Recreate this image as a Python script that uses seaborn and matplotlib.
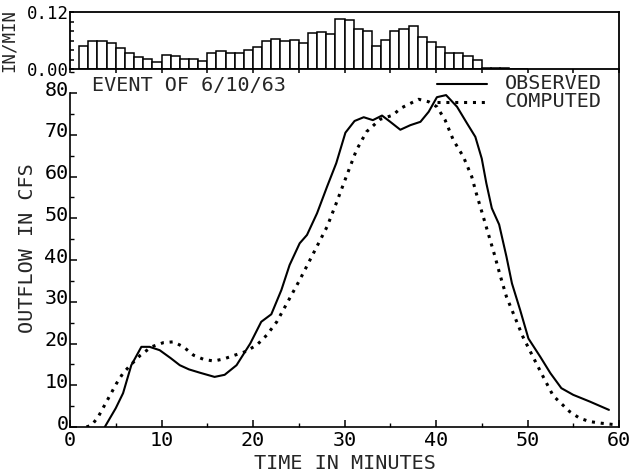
import numpy as np
import pandas as pd
import matplotlib
matplotlib.use("Agg")
import matplotlib.pyplot as plt
import matplotlib.transforms as mtransforms
from matplotlib.ticker import MultipleLocator, FixedLocator, NullFormatter, FuncFormatter
import seaborn as sns

# ---- data ----
rain_start_min = list(range(1, 50))
rain_in_per_min = [0.048, 0.060, 0.060, 0.055, 0.044, 0.033, 0.026, 0.021, 0.015, 0.029,
                   0.028, 0.021, 0.020, 0.017, 0.034, 0.038, 0.034, 0.034, 0.040, 0.046,
                   0.058, 0.064, 0.058, 0.060, 0.055, 0.076, 0.077, 0.074, 0.105, 0.104,
                   0.084, 0.081, 0.048, 0.060, 0.079, 0.084, 0.091, 0.067, 0.057, 0.046,
                   0.033, 0.033, 0.028, 0.019, 0.003, 0.002, 0.002, 0.001, 0.001]

obs_time = [3.8, 5.0, 5.8, 6.7, 7.8, 8.7, 9.8, 11.0, 12.0, 13.0, 14.2, 15.8, 16.9, 18.2,
            19.7, 20.9, 22.0, 23.1, 24.0, 25.1, 25.9, 27.0, 28.1, 29.1, 30.1, 31.1, 32.1,
            33.1, 34.1, 35.0, 36.1, 37.2, 38.3, 39.2, 40.1, 41.1, 42.3, 43.4, 44.3, 45.0,
            45.5, 46.1, 46.9, 47.7, 48.3, 49.2, 50.1, 51.4, 52.5, 53.7, 55.0, 56.8, 58.9]
obs_flow = [0, 4.5, 8.1, 14.8, 19.2, 19.2, 18.4, 16.5, 14.8, 13.8, 13.0, 12.0, 12.5, 14.8,
            20.0, 25.2, 27.0, 32.8, 38.8, 44.0, 46.0, 51.2, 57.6, 63.2, 70.5, 73.3, 74.2,
            73.5, 74.6, 73.1, 71.2, 72.3, 73.1, 75.5, 79.0, 79.5, 76.7, 72.7, 69.5, 64.3,
            58.4, 52.4, 48.5, 40.8, 34.4, 28.0, 21.2, 16.8, 12.9, 9.3, 7.7, 6.1, 4.1]

comp_time = [1.8, 2.4, 3.1, 4.0, 5.1, 5.8, 6.6, 7.7, 8.9, 10.2, 11.3, 12.4, 13.5, 14.6,
             15.7, 16.8, 18.0, 19.1, 20.4, 21.5, 22.6, 23.7, 25.1, 26.6, 28.1, 29.1, 30.2,
             31.3, 32.4, 33.9, 35.3, 36.1, 38.1, 39.2, 40.1, 41.0, 41.9, 43.0, 43.9, 44.4,
             45.0, 45.7, 46.4, 47.0, 47.7, 48.6, 49.5, 50.6, 51.7, 52.8, 54.6, 55.7, 56.8,
             58.1, 59.8]
comp_flow = [0, 0.5, 2.5, 6.1, 10.5, 12.9, 14.8, 17.2, 19.2, 20.2, 20.4, 19.2, 17.2, 16.2,
             15.8, 16.3, 17.2, 18.0, 19.6, 22.0, 25.2, 29.6, 35.2, 41.6, 48.0, 53.6, 60.0,
             66.3, 70.7, 73.7, 74.7, 76.3, 78.5, 77.9, 76.7, 73.5, 68.7, 64.7, 60.0, 56.0,
             51.6, 46.4, 41.2, 36.4, 31.2, 26.4, 21.6, 16.8, 12.1, 7.5, 3.7, 2.1, 1.3,
             0.9, 0.5]

x_ticks = [0, 10, 20, 30, 40, 50, 60]
y_ticks = [0, 10, 20, 30, 40, 50, 60, 70, 80]
rain_ticks = [0.0, 0.12]

title_text = "EVENT OF 6/10/63"
legend_labels = ["OBSERVED", "COMPUTED"]

# ---- styling ----
sns.set_theme(style="white")
plt.rcParams['font.family'] = ['DejaVu Sans Mono']
plt.rcParams['axes.edgecolor'] = 'black'
plt.rcParams['axes.linewidth'] = 1.2
plt.rcParams['xtick.color'] = 'black'
plt.rcParams['ytick.color'] = 'black'
FS = 14.5
FS_TOP = 12.5

fig = plt.figure(figsize=(6.33, 4.75), dpi=100)
W, H = 633, 475
L, R = 70 / W, 619 / W
ax = fig.add_axes([L, 1 - 427 / H, R - L, (427 - 69) / H])
axt = fig.add_axes([L, 1 - 69 / H, R - L, (69 - 12) / H])

# rainfall bars
rain_t = [m + 0.5 for m in rain_start_min]
bin_edges = [float(e) for e in range(1, 51)]
sns.histplot(x=rain_t, weights=rain_in_per_min, bins=bin_edges, ax=axt,
             color="white", edgecolor="black", linewidth=1.1, alpha=1.0)
axt.set_xlim(0, 60)
axt.set_ylim(0, 0.12)
axt.set_xlabel("")
axt.set_ylabel("IN/MIN", fontsize=FS_TOP, labelpad=1)
axt.yaxis.set_label_coords(-0.095, 0.5)
axt.xaxis.set_major_locator(MultipleLocator(5))
axt.xaxis.set_major_formatter(NullFormatter())
axt.tick_params(axis='x', direction='out', length=3, width=1.1, bottom=True)
axt.yaxis.set_major_locator(FixedLocator(rain_ticks))
axt.yaxis.set_major_formatter(FuncFormatter(lambda v, p: f"{v:.2f}"))
axt.yaxis.set_minor_locator(MultipleLocator(0.02))
axt.tick_params(axis='y', which='both', direction='in', length=3, width=1.1, left=True,
                labelsize=FS_TOP, pad=1)
for s in axt.spines.values():
    s.set_linewidth(1.3)

# flow lines
obs_df = pd.DataFrame({"t": obs_time, "q": obs_flow})
comp_df = pd.DataFrame({"t": comp_time, "q": comp_flow})
sns.lineplot(data=obs_df, x="t", y="q", ax=ax, color="black", linewidth=1.5,
             estimator=None, sort=False)
sns.lineplot(data=comp_df, x="t", y="q", ax=ax, color="black", linewidth=2.2,
             linestyle=(0, (1, 1.9)), estimator=None, sort=False)

ax.set_xlim(0, 60)
ax.set_ylim(0, 85.75)
ax.spines['top'].set_visible(False)
ax.spines['left'].set_bounds(0, 80)
ax.set_xticks(x_ticks)
ax.set_yticks(y_ticks)
ax.xaxis.set_minor_locator(MultipleLocator(5))
ax.yaxis.set_minor_locator(MultipleLocator(5))
ax.tick_params(axis='both', which='major', direction='in', length=5, width=1.1,
               labelsize=FS, bottom=True, left=True)
ax.tick_params(axis='both', which='minor', direction='in', length=3, width=1.0,
               bottom=True, left=True)
ax.tick_params(axis='x', pad=3)
ax.tick_params(axis='y', pad=1)
ax.set_xlabel("TIME IN MINUTES", fontsize=FS, labelpad=3)
ax.set_ylabel("OUTFLOW IN CFS", fontsize=FS, labelpad=5)

# y tick labels sit slightly above their ticks in the reference
up = mtransforms.ScaledTranslation(0, 5 / 100, fig.dpi_scale_trans)
for tk in ax.yaxis.get_major_ticks():
    tk.label1.set_transform(tk.label1.get_transform() + up)

# annotations
ax.text(2.4, 81.8, title_text, fontsize=FS, va="center", ha="left")
ax.plot([40.1, 45.6], [82.2, 82.2], color="black", linewidth=1.5)
ax.plot([40.1, 45.6], [77.9, 77.9], color="black", linewidth=2.2, linestyle=(0, (1, 1.9)))
ax.text(47.5, 82.2, legend_labels[0], fontsize=FS, va="center", ha="left")
ax.text(47.5, 77.9, legend_labels[1], fontsize=FS, va="center", ha="left")

fig.savefig("out.png", dpi=100)
